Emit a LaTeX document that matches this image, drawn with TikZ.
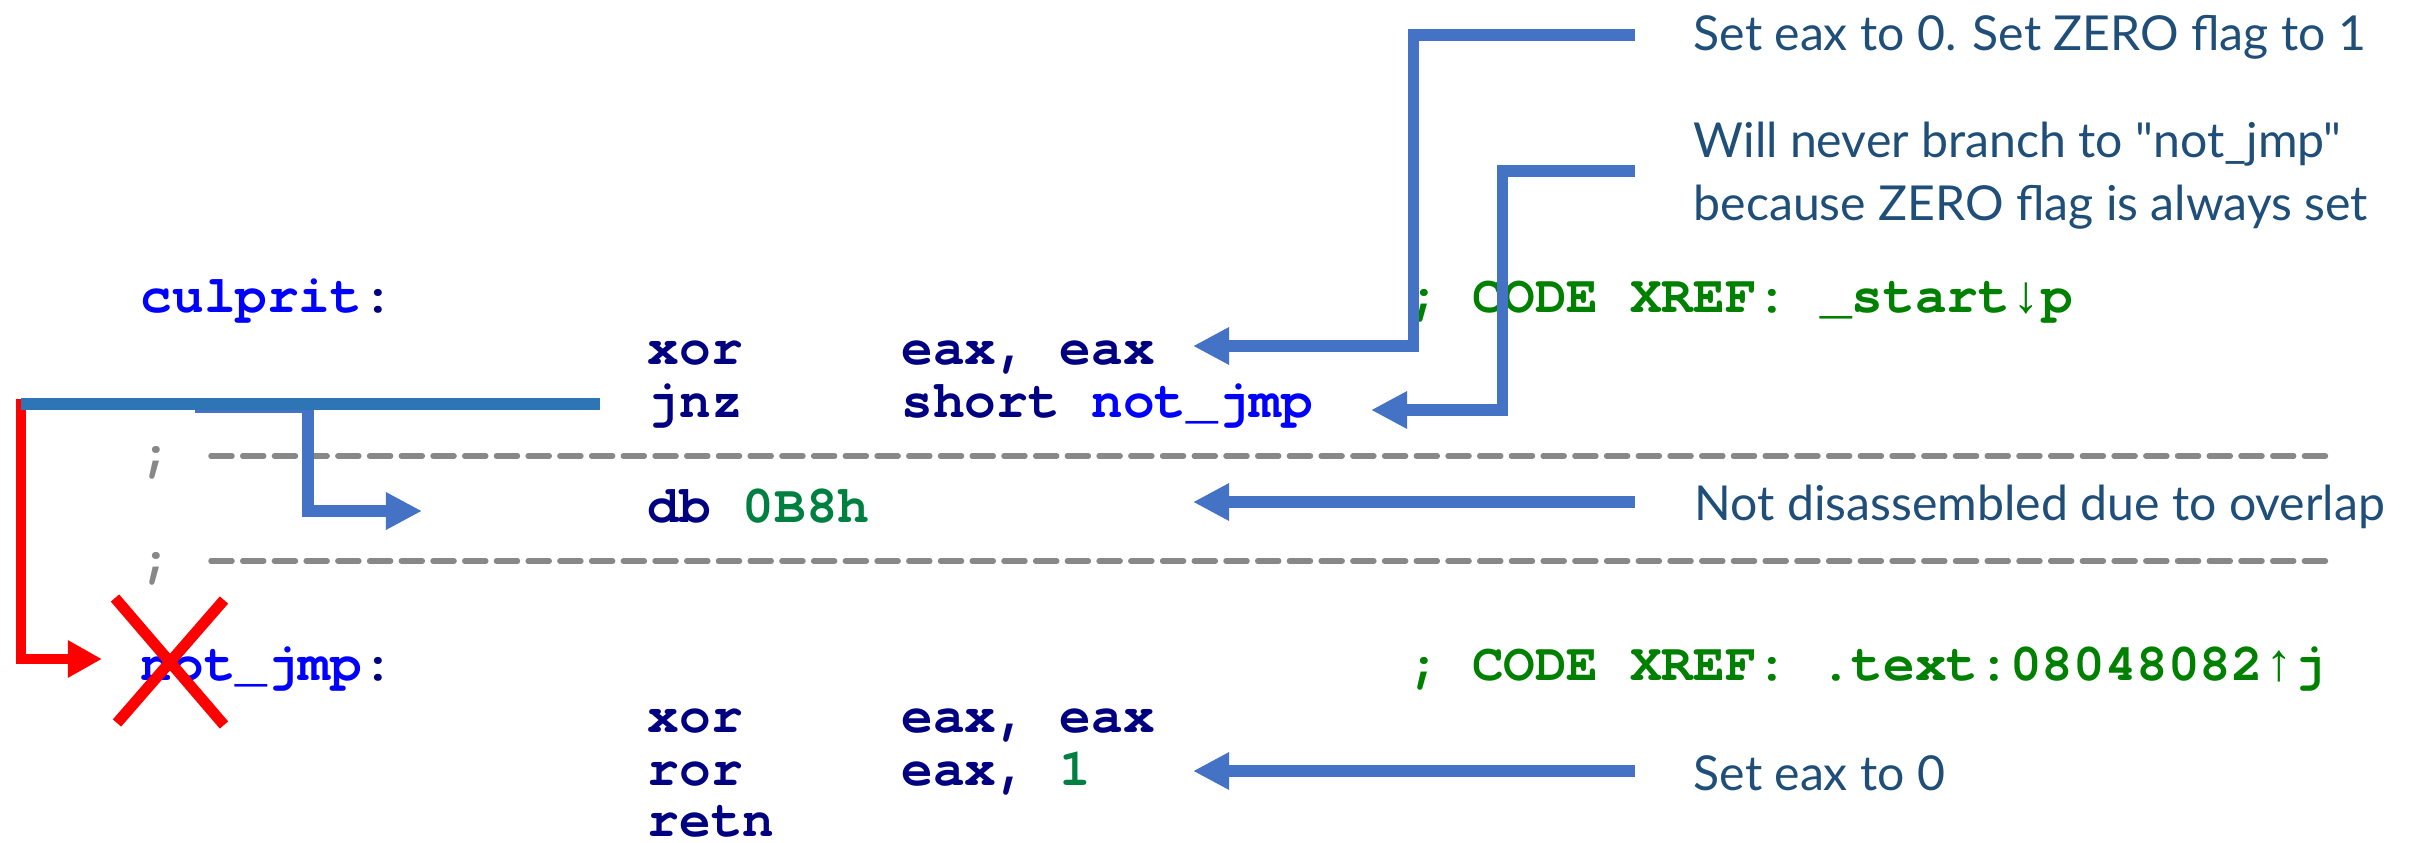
\documentclass[tikz,border=0pt]{standalone}
\usepackage{fontspec}
\newfontfamily\annfont{Lato}
\setmonofont{texgyrecursor-regular.otf}[BoldFont=texgyrecursor-bold.otf]
\newfontfamily\arrfont{Liberation Mono}
\usetikzlibrary{arrows.meta}
\definecolor{annblue}{HTML}{1F4E79}
\definecolor{arrblue}{HTML}{4472C4}
\definecolor{lineblue}{HTML}{2E75B6}
\definecolor{navyc}{HTML}{000080}
\definecolor{lblblue}{HTML}{0000FF}
\definecolor{cmtgreen}{HTML}{008000}
\definecolor{numgreen}{HTML}{008040}
\definecolor{sepgray}{HTML}{888888}
\definecolor{xred}{HTML}{FF0000}
\begin{document}
\begin{tikzpicture}[x=0.01cm,y=-0.01cm,
  code/.style={anchor=base west, inner sep=0pt, text=navyc, font=\ttfamily\bfseries\fontsize{15}{18}\selectfont},
  ann/.style={anchor=base west, inner sep=0pt, text=annblue, font=\annfont\fontsize{13.7}{17}\selectfont},
  callout/.style={draw=arrblue, line width=1.15mm, -{Triangle[length=3.6mm,width=3.5mm]}},
  redcall/.style={draw=xred, line width=1.05mm, -{Triangle[length=3.4mm,width=3.5mm]}},
  cross/.style={draw=xred, line width=1.1mm},
  sep/.style={draw=sepgray, line width=0.55mm, line cap=round, dash pattern=on 2.1mm off 1.07mm},
]
\useasboundingbox (0,0) rectangle (2414,842);

% ---- code listing ----
\node[code, text=lblblue] (culprit) at (140,312) {culprit\textcolor{navyc}{:}};
\node[code, text=cmtgreen] (xref1) at (1408,312) {; CODE XREF: \_start{\arrfont\bfseries↓}p};
\node[code] (xor1) at (647.2,364.6) {xor};
\node[code] (xor1op) at (900.8,364.6) {eax, eax};
\node[code] (jnz) at (647.2,417.2) {jnz};
\node[code] (jnzop) at (900.8,417.2) {short \textcolor{lblblue}{not\_jmp}};
\node[code, text=sepgray] (semi1) at (140,469.8) {;};
\node[code] (db) at (647.2,522.4) {db \textcolor{numgreen}{0B8h}};
\node[code, text=sepgray] (semi2) at (140,575) {;};
\node[code, text=lblblue] (notjmp) at (140,680.2) {not\_jmp\textcolor{navyc}{:}};
\node[code, text=cmtgreen] (xref2) at (1408,680.2) {; CODE XREF: .text:08048082{\arrfont\bfseries↑}j};
\node[code] (xor2) at (647.2,732.8) {xor};
\node[code] (xor2op) at (900.8,732.8) {eax, eax};
\node[code] (ror) at (647.2,785.4) {ror};
\node[code] (rorop) at (900.8,785.4) {eax, \textcolor{numgreen}{1}};
\node[code] (retn) at (647.2,836) {retn};

% separator dashes
\draw[sep] (211,456) -- (2328,456);
\draw[sep] (211,561) -- (2328,561);

% ---- annotations ----
\node[ann] (n1) at (1693,50) {Set eax to 0. Set ZERO flag to 1};
\node[ann] (n2a) at (1693,157) {Will never branch to "not\_jmp"};
\node[ann] (n2b) at (1693,220) {because ZERO flag is always set};
\node[ann] (n3) at (1694,520) {Not disassembled due to overlap};
\node[ann] (n4) at (1693,790) {Set eax to 0};

% ---- connector end points ----
\coordinate (a1s) at (1635,35);
\coordinate (a1e) at (1193,346);
\coordinate (a2s) at (1635,171);
\coordinate (a2e) at (1371,410);
\coordinate (a3s) at (1635,502);
\coordinate (a3e) at (1193,502);
\coordinate (a4s) at (1635,771);
\coordinate (a4e) at (1193,771);
\coordinate (js) at (600,404);
\coordinate (jl) at (21,404);
\coordinate (rs) at (21,399);
\coordinate (re) at (102,659);
\coordinate (ds) at (195,407);
\coordinate (de) at (422,511);

% ---- callouts ----
\draw[callout] (a1s) -- (1413.5,35) -- (1413.5,346) -- (a1e);
\draw[callout] (a2s) -- (1502.5,171) -- (1502.5,410) -- (a2e);
\draw[callout] (a3s) -- (a3e);
\draw[callout] (a4s) -- (a4e);

% ---- jump path ----
\draw[redcall] (rs) |- (re);
\draw[callout] (ds) -- (308,407) -- (308,511) -- (de);
\draw[draw=lineblue, line width=1.2mm] (js) -- (jl);

% ---- cross ----
\draw[cross] (115,598) -- (224,725);
\draw[cross] (224,600) -- (117,723);
\end{tikzpicture}
\end{document}
